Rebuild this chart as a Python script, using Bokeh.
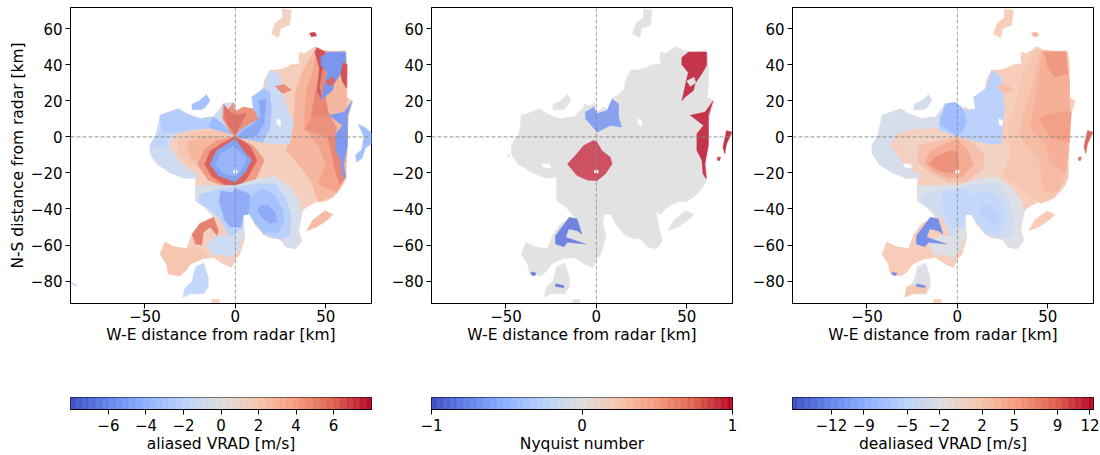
import numpy as np
from bokeh.embed import file_html
from bokeh.layouts import row, column
from bokeh.models import FixedTicker, Range1d, Span
from bokeh.plotting import figure
from bokeh.resources import INLINE

XLIM = (-91.2, 75.3)
YLIM = (-92.4, 71.7)
AX_TICKS_X = [-50, 0, 50]
AX_TICKS_Y = [-80, -60, -40, -20, 0, 20, 40, 60]
CB1_TICKS = [-6, -4, -2, 0, 2, 4, 6]
CB2_TICKS = [-1, 0, 1]
CB3_TICKS = [-12.07, -9.05, -5.0, -2.0, 2.0, 5.0, 9.05, 12.07]
CB3_LABELS = ["−12", "−9", "−5", "−2", "2", "5", "9", "12"]
COOLWARM = ["#3b4cc0", "#6282ea", "#8db0fe", "#b8d0f9", "#dddcdc", "#f5c4ac", "#f4987a", "#dd604b", "#b40426"]

BODY = [(-47,-5),(-45,-1),(-43,1),(-42,6),(-41.6,12),(-38,13),(-31.5,15.5),(-29,14),(-27,12.8),(-23,11),(-19.5,10),(-15,11),(-12,11),(-10,13.7),(-8,15),(-6.6,18.3),(-4,17),(-1,19),(0,14),(2,15),(4.4,16.5),(7,14),(10,15.5),(11,18),(9,22),(12,23),(15.5,26.7),(16,31),(19,37),(22,37),(26.5,37.8),(31,40),(35.7,40.5),(35,44),(35.7,47),(38,46),(41,48),(44,50),(48,48),(54,47),(60.6,48),(61.5,44),(62,39),(62,30),(61.5,22),(65,20),(64,16),(63,12.8),(62,5),(61.5,-2),(61.5,-6),(60.6,-11),(61,-17),(61.5,-22),(60,-26),(58,-29),(54,-33.5),(49.5,-36),(45,-36),(41,-38),(38,-40),(35.7,-43),(33,-42),(35,-52),(36.6,-57.6),(35,-60),(33,-62),(28,-61),(24.7,-56.7),(19,-56),(15.5,-54),(11,-49),(8,-43),(4.4,-43),(3.5,-47),(5.3,-55.7),(4,-60),(2.6,-65),(0,-68),(-2,-72.4),(-6.6,-70.6),(-12,-66.9),(-19.5,-67.8),(-25,-70.6),(-27,-74),(-30.6,-77),(-37,-76),(-38,-70.6),(-41.6,-65),(-39,-58.5),(-34,-61),(-27,-62),(-24,-54),(-19.5,-48),(-12,-44.6),(-16.8,-39),(-22,-35.4),(-22,-28),(-22,-22.4),(-28,-23),(-36,-19.6),(-40,-17),(-43.5,-15),(-47,-9.4)]
WEST_LOBE = [(-24,18),(-20,20),(-16,23.5),(-14,20),(-17,16),(-19,15),(-24,15)]
SE_LOBE = [(54,-43),(49.5,-41),(43,-46),(39.5,-52),(45,-50),(51,-46)]
TOP_LOBE = [(26,71),(31,70),(30,62),(25,60),(24,55),(20,57),(22,63),(26,66)]
S_BLOB = [(-22,-72),(-17.5,-70),(-15,-78),(-15,-83),(-17.5,-87),(-25,-87),(-29,-89),(-28,-84),(-24,-80)]
BOTTOM = [(-13,-90),(-9,-90),(-9,-92),(-13,-92)]
NE_SPOT = [(41,57.5),(44,58),(45,56),(42,55.5)]
E_BLOB_WIDE = [(68,7),(72,5),(75.3,2),(75.3,-4),(72,-6),(70,-12),(67,-14),(66.5,-10),(70,-7),(71,0)]
E_BLOB_NARROW = [(72,3.5),(75,2.6),(72,-4),(71,-9.4),(70,-5.7),(71,-1)]
E_BIT = [(67,-11.3),(68.7,-11.3),(68,-13.2),(67,-13)]
W_SPECK = [(-91.2,-80),(-88,-82),(-88,-83),(-91.2,-81)]
W_TIP = [(-49,-10),(-48,-10),(-48,-11),(-49,-11)]
HOLE_A = [(-30,-15),(-26,-15),(-25,-17),(-29,-17)]
HOLE_B = [(-1,-18.5),(1,-18.5),(1,-20),(-1,-20)]
HOLE_C = [(23,10),(25,9),(25,6),(23,7)]
NE_PATCH = [(47.3,44),(51,47),(61,47),(61,39.6),(58.3,35),(54.6,29.5),(53.7,25.7),(49,22),(47.3,20),(49,27.6),(50.8,35.7),(47.3,40)]
NE_HOLE = [(50,31),(54,33),(55,30),(52,28)]
NE_STRIP = [(59.5,41),(61.8,40),(61.5,27),(59,31),(58.3,35)]
E_PATCH = [(52,11.9),(60.2,13.7),(64.5,19.8),(62,11.9),(62,-4.8),(60,-15),(60.8,-23.3),(59,-20.5),(58.4,-13),(55.6,-7.6),(55.6,1.7),(59.3,6.3)]
CENTRE_PATCH = [(-1.5,-2),(-7,-4.8),(-11.6,-10.4),(-16,-15),(-10.7,-21.5),(-5,-24),(0.4,-24.3),(5,-20.5),(8.7,-15),(7.7,-11.3),(3,-7.6),(0.4,-3)]
NORTH_PATCH = [(-6,13.7),(-1.5,16.5),(0.4,12.8),(5.9,14.6),(8.7,21),(12.3,18.3),(12.3,11),(14,5.4),(7.7,6.3),(0.4,2.6),(-4.2,8.1),(-6,10)]
SW_PATCH = [(-15,-44.6),(-10.7,-45.5),(-8,-53.9),(-10.7,-52),(-15.3,-51),(-17,-55.7),(-6,-59.4),(-16,-58.5),(-18,-61),(-22.6,-59.4),(-22.6,-54.8),(-19,-50)]
SMALL_A = [(-36,-75),(-33.5,-75.5),(-34,-77),(-36,-76.5)]
SMALL_B = [(-22.5,-81.5),(-18,-82.5),(-18,-83.5),(-22.5,-83)]

WEST = [(-47.5,-5),(-44,1),(-41.6,12),(-31.5,15.5),(-27,12.8),(-19.5,10),(-12,11),(-10,13.7),(-6.6,18.3),(-1,19),(0,14),(0,0),(-12,5),(-24,4),(-33,2),(-37,-5),(-30,-15),(-20,-22),(-22,-23),(-28,-23),(-36,-20),(-43.5,-15),(-47,-9.4)]
WEST_N = [(-41.6,12),(-31.5,15.5),(-27,12.8),(-19.5,10),(-12,11),(-10,5),(-24,4),(-33,2),(-41,3)]
WEST_W = [(-47,-5),(-44,1),(-41,3),(-37,1),(-38,-5),(-42,-6)]
SOUTH = [(-22,-27),(-10,-27),(0,-27),(10,-24),(22,-22),(30,-28),(35,-35),(37,-42),(35,-52),(36.6,-57.6),(33,-62),(28,-61),(24.7,-56.7),(15.5,-54),(8,-43),(4.4,-43),(5,-55),(2,-60),(-2,-57),(-8,-45),(-12,-44.6),(-16.8,-39),(-22,-35.4)]
SOUTH_B = [(-20,-32),(-8,-29),(2,-28),(12,-26),(22,-26),(28,-34),(31,-44),(30,-55),(24.7,-56.7),(15.5,-54),(8,-43),(4.4,-43),(4,-50),(-3,-56),(-8,-46),(-14,-40),(-20,-37)]
SOUTH_C = [(-8,-30),(-2,-31),(0,-29),(4,-30),(8,-32),(8,-38),(7,-43),(4.4,-43),(3,-50),(-3,-50),(-6,-46),(-7,-42),(-9,-36)]
SOUTH_E = [(8,-34),(12,-30),(16,-29),(22,-33),(26,-40),(27,-46),(24,-53),(15.5,-53),(11,-48),(8,-43)]
SOUTH_CORE = [(12,-41),(14,-38),(18,-38),(22,-42),(23,-47),(19,-48),(15,-45)]
PALE_SW = [(-16,-60),(-13,-57),(-10,-55),(-3,-55),(1,-58),(3,-62),(-3,-67),(-8,-65),(-12,-66)]
SALM_SW = [(-41.6,-65),(-39,-58.5),(-34,-61),(-27,-62),(-20,-62),(-15,-66),(-25,-70.6),(-30.6,-77),(-37,-76),(-38,-70.6)]
E_A = [(32,5),(33,25),(38,38),(44,48),(61,47),(62,10),(62,-5),(61,-22),(54,-33),(46,-36),(42,-25),(35,-15),(28,-8),(30,0)]
E_B = [(38,6),(39,25),(43,37),(45,49),(50,47),(50,20),(52,12),(56,0),(58,-10),(61,-22),(56,-31),(46,-26),(50,-15),(46,-5),(42,0)]
E_C = [(42,12),(44,24),(47,38),(46,49),(50,47),(50,20),(52,11),(56,0),(58,-10),(61,-22),(58,-27),(55,-18),(53,-8),(51,0),(46,8)]
E_D = [(45,49.5),(49.5,47),(49.5,41.5),(47.7,36),(46.4,27.6),(47.7,21),(45.5,25),(46.5,38),(44,47)]
E_BAND = [(38,4),(42,10),(52,12),(56,5),(55,0),(48,1)]
NE_BAND = [(15.5,26.7),(19,37),(24,35),(27,20),(32,8),(30,-4),(22,-4),(15,-3),(19,5),(20,15),(19,25)]
NE_BLUE = [(0,0),(3,4),(8,7),(13,10),(10,15.5),(9,22),(15.5,26.7),(19,25),(20,15),(19,5),(15,-3),(5,-1)]
NE_BLUE2 = [(1,0),(5,4),(10,7),(14,12),(13,20),(17,21),(16,8),(12,1),(5,-1)]
N_BLUE = [(-15,6),(-12,11),(-8,8),(-3,3),(-1,1),(-8,2)]
N_RED = [(-6.6,18.3),(-4,15),(-1,19),(0,14),(4.4,16.5),(10,15.5),(13,10),(8,7),(3,4),(0,0),(-3,3),(-7,10)]
N_RED2 = [(-6,17),(-3,14),(0,12),(6,13),(3,7),(0,1),(-3,5),(-6,11)]
WEST_SALMON = [(-32.4,-2),(-23,2.6),(-10,3.5),(-1,0.7),(-10,-7.6),(-16,-15),(-12,-20.5),(-5,-25.7),(-17.7,-18.7),(-25,-15),(-30.6,-10)]
WEST_SALMON2 = [(-27,-3),(-18,0),(-8,0),(-12,-6),(-19,-14),(-25,-12)]
RING_OUT = [(0,0.5),(-10,-2),(-17,-7),(-21,-15),(-15,-24),(-5,-28),(3,-28),(11,-24),(16,-13),(10,-5)]
RING = [(0,0),(-8,-4),(-14,-8),(-17,-15),(-13,-22),(-5,-27),(3,-27),(7,-22),(12,-13),(8,-5)]
CORE_A = [(0,-1),(-3,-3),(-10.3,-7.6),(-14,-15),(-9.4,-21.5),(0,-25),(5.3,-19.6),(9,-13),(4.4,-7.6)]
CORE_B = [(-1,-5),(-8,-9),(-11,-15),(-7,-20),(0,-22),(5,-16),(6,-12),(2,-8)]
SW_RED = [(-24,-54),(-19.5,-48),(-12,-44.6),(-9.4,-52),(-10,-54.8),(-14,-50),(-17.7,-53),(-18.6,-60),(-22,-59.4)]
HOT_A = [(22,28),(27,29),(31,26),(26,24)]
C3_OUTER = [(-32,-2),(-24,2),(-10,3),(0,0),(8,-2),(20,-5),(30,-8),(25,-20),(15,-24),(5,-28),(-5,-27),(-18,-20),(-27,-14)]
C3_MID = [(-22,-5),(-10,-2),(0,0),(8,-3),(15,-10),(14,-18),(5,-25),(-5,-25),(-15,-20),(-22,-14)]
C3_IN = [(-15,-8),(-5,-3),(0,-1),(6,-8),(9,-15),(3,-22),(-5,-23),(-14,-19),(-18,-14)]
C3_CORE = [(-12,-11),(-5,-8),(0,-8),(1,-18),(-3,-20),(-10,-19),(-16,-15)]
E3_A = [(25,-22),(30,-8),(28,5),(33,20),(36,35),(44,48),(61,47),(62,10),(62,-5),(61,-22),(54,-33),(46,-37),(38,-30)]
E3_B = [(34,0),(38,18),(42,30),(46,48),(60,47),(62,30),(62,5),(60,-20),(56,-30),(48,-30),(45,-12)]
E3_C = [(40,5),(44,25),(47,47),(60,47),(62,30),(62,5),(60,-20),(52,-15),(48,-3)]
E3_D = [(48,47),(60,47),(61,35),(54,33),(50,38)]
E3_E = [(45,10),(52,13),(63,14),(62,-3),(52,-1)]
N3_LIGHT = [(-10,12),(-1,19),(0,14),(10,15.5),(9,22),(15.5,26.7),(19,37),(24,33),(26,15),(24,-4),(12,-4),(0,0),(-10,4)]
N3_DEEP = [(-10,7),(-6.6,18.3),(-1,19),(3,16),(5,8),(2,2),(0,0)]
S3_PINK = [(-28,-83),(-17,-82),(-17,-87),(-25,-87),(-29,-89)]

PANEL1 = [
    (1.8, BODY), (3.0, SE_LOBE), (1.6, TOP_LOBE), (3.2, E_A), (4.2, E_B), (5.4, E_C), (7.0, E_D), (5.0, E_BAND),
    (-1.3, WEST), (-2.8, WEST_N), (-2.2, WEST_W), (-3.6, WEST_LOBE), (-4.0, N_BLUE), (-1.6, NE_BAND), (5.0, N_RED), (6.2, N_RED2),
    (-3.6, NE_BLUE), (-5.0, NE_BLUE2), (2.4, WEST_SALMON), (3.2, WEST_SALMON2), (4.6, RING_OUT), (6.6, RING), (-5.4, CORE_A), (-4.4, CORE_B),
    (-0.8, SOUTH), (-2.5, SOUTH_B), (-4.8, SOUTH_C), (-3.6, SOUTH_E), (-4.9, SOUTH_CORE), (-1.4, PALE_SW), (2.4, SALM_SW), (5.6, SW_RED),
    (-2.0, S_BLOB), (1.8, BOTTOM), (5.2, HOT_A), (-6.0, NE_PATCH), (6.5, NE_HOLE), (7.0, NE_STRIP), (-5.8, E_PATCH), (-3.8, E_BLOB_WIDE), (-2.0, W_SPECK), (7.4, NE_SPOT), (None, HOLE_B), (None, HOLE_C),
]
PANEL2 = [
    (0.0, BODY), (0.0, WEST_LOBE), (0.0, SE_LOBE), (0.0, TOP_LOBE), (0.0, S_BLOB), (0.0, BOTTOM), (0.0, W_TIP),
    (-0.72, NORTH_PATCH), (-0.85, SW_PATCH), (0.95, CENTRE_PATCH), (0.97, NE_PATCH), (0.0, NE_HOLE), (0.97, E_PATCH), (0.97, E_BLOB_NARROW), (0.97, E_BIT), (-0.9, SMALL_A), (-0.9, SMALL_B), (None, HOLE_A), (None, HOLE_B), (None, HOLE_C),
]
PANEL3 = [
    (1.7, BODY), (1.9, SE_LOBE), (1.7, TOP_LOBE), (4.5, NE_SPOT), (1.9, BOTTOM), (-3.0, WEST), (-3.4, WEST_LOBE), (-6.0, N3_LIGHT), (-8.5, N3_DEEP),
    (1.0, C3_OUTER), (3.0, C3_MID), (5.0, C3_IN), (7.0, C3_CORE), (2.6, E3_A), (3.6, E3_B), (4.7, E3_C), (6.6, E3_D), (6.0, E3_E),
    (-2.3, SOUTH), (-3.8, SOUTH_B), (-5.2, SOUTH_C), (-5.0, SOUTH_E), (-6.0, SOUTH_CORE), (-2.2, PALE_SW), (1.9, SALM_SW), (-2.2, S_BLOB), (2.5, S3_PINK),
    (3.5, HOT_A), (-12.8, SW_PATCH), (9.5, E_BLOB_NARROW), (9.5, E_BIT), (-12.8, SMALL_A), (-12.8, SMALL_B), (None, HOLE_A), (None, HOLE_B), (None, HOLE_C),
]
WHITE_MIX = 0.16
PALE_PATCH_MIX = {0.95: 0.25, -0.72: 0.22}


def cmap(f, mix=0.0):
    pos = np.linspace(0, 1, len(COOLWARM))
    rgb = np.array([[int(c[i:i + 2], 16) for i in (1, 3, 5)] for c in COOLWARM])
    out = [float(np.interp(f, pos, rgb[:, k])) * (1 - mix) + 255 * mix for k in range(3)]
    return "#%02x%02x%02x" % tuple(int(round(x)) for x in out)


def style(p):
    p.outline_line_color = "black"
    p.outline_line_width = 1
    p.grid.visible = False
    for ax in p.axis:
        ax.major_label_text_font = "DejaVu Sans"
        ax.major_label_text_font_size = "15px"
        ax.major_label_text_color = "#000000"
        ax.axis_label_text_font = "DejaVu Sans"
        ax.axis_label_text_font_size = "15.5px"
        ax.axis_label_text_font_style = "normal"
        ax.axis_label_text_color = "#000000"
        ax.major_tick_in = 0
        ax.major_tick_out = 5
        ax.major_label_standoff = 1
        ax.minor_tick_line_color = None
        ax.axis_line_color = "black"


def panel(layers, vmin, vmax, left, right, ylabel, mixes=None):
    p = figure(width=left + 301 + right, height=360, output_backend="svg", toolbar_location=None,
               x_range=Range1d(*XLIM), y_range=Range1d(*YLIM), min_border_left=left, min_border_right=right,
               min_border_top=7, min_border_bottom=57, background_fill_color="white")
    for v, poly in layers:
        xs = [q[0] for q in poly]
        ys = [q[1] for q in poly]
        mix = (mixes or {}).get(v, WHITE_MIX)
        col = "white" if v is None else cmap((v - vmin) / (vmax - vmin), mix)
        p.patch(xs, ys, fill_color=col, line_color=col, line_width=0.5)
    for dim in ("width", "height"):
        p.add_layout(Span(location=0, dimension=dim, line_color="#888888", line_alpha=0.7, line_width=1.1, line_dash="4 2"))
    style(p)
    p.xaxis.ticker = FixedTicker(ticks=AX_TICKS_X)
    p.xaxis.major_label_overrides = {t: str(t).replace("-", "−") for t in AX_TICKS_X}
    p.yaxis.ticker = FixedTicker(ticks=AX_TICKS_Y)
    p.yaxis.major_label_overrides = {t: str(t).replace("-", "−") for t in AX_TICKS_Y}
    p.yaxis.major_label_standoff = 3
    p.xaxis.axis_label = "W-E distance from radar [km]"
    p.xaxis.axis_label_standoff = 1
    if ylabel:
        p.yaxis.axis_label = ylabel
        p.yaxis.axis_label_standoff = 1
    return p


def cbar(vmin, vmax, ticks, labels, title, left, right):
    p = figure(width=left + 301 + right, height=95, output_backend="svg", toolbar_location=None,
               x_range=Range1d(vmin, vmax), y_range=Range1d(0, 1), min_border_left=left, min_border_right=right,
               min_border_top=37, min_border_bottom=43)
    edges = np.linspace(vmin, vmax, 257)
    cols = [cmap(i / 255) for i in range(256)]
    p.quad(left=edges[:-1], right=edges[1:], bottom=0, top=1, fill_color=cols, line_color=cols, line_width=0.5)
    style(p)
    p.yaxis.visible = False
    p.xaxis.ticker = FixedTicker(ticks=ticks)
    p.xaxis.major_label_overrides = dict(zip(ticks, labels))
    p.xaxis.major_label_standoff = 4
    p.xaxis.axis_label = title
    p.xaxis.axis_label_standoff = 1
    return p


p1 = panel(PANEL1, -8.0, 8.0, 70, 5, "N-S distance from radar [km]")
p2 = panel(PANEL2, -1.0, 1.0, 55, 5, None, PALE_PATCH_MIX)
p3 = panel(PANEL3, -15.7, 12.4, 55, 7, None)
c1 = cbar(-8.02, 8.02, CB1_TICKS, [str(t).replace("-", "−") for t in CB1_TICKS], "aliased VRAD [m/s]", 70, 5)
c2 = cbar(-1, 1, CB2_TICKS, ["−1", "0", "1"], "Nyquist number", 55, 5)
c3 = cbar(-15.7, 12.4, CB3_TICKS, CB3_LABELS, "dealiased VRAD [m/s]", 55, 7)

page = column(row(p1, p2, p3, spacing=0), row(c1, c2, c3, spacing=0), spacing=0)
open("out.html", "w").write(file_html(page, INLINE))
